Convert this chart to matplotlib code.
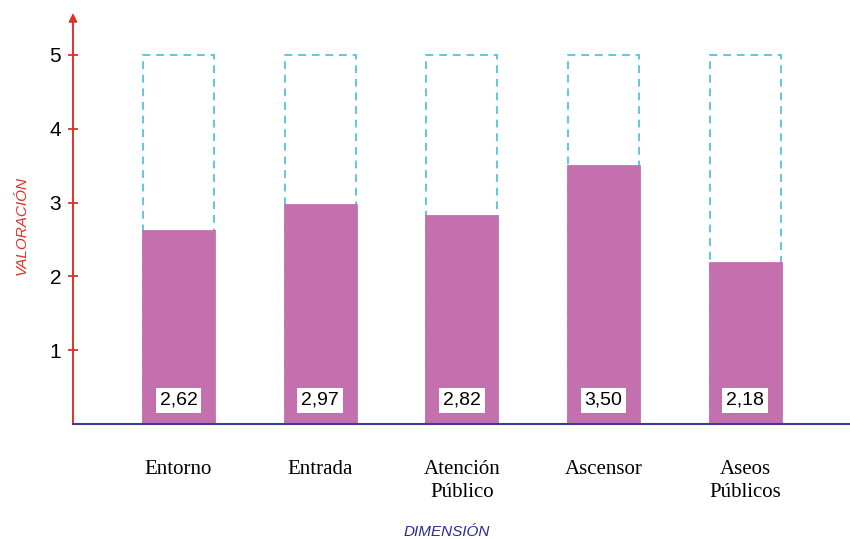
import matplotlib
matplotlib.use("Agg")
import matplotlib.pyplot as plt
import numpy as np

categories = ["Entorno", "Entrada", "Atención\nPúblico", "Ascensor", "Aseos\nPúblicos"]
values = [2.62, 2.97, 2.82, 3.50, 2.18]
value_labels = ["2,62", "2,97", "2,82", "3,50", "2,18"]
max_value = 5
yticks = [1, 2, 3, 4, 5]

W, H = 850, 539
fig = plt.figure(figsize=(W / 100, H / 100), dpi=100)
ax = fig.add_axes([73 / W, (H - 424) / H, (W - 73) / W, (424 - 15) / H])

x = np.arange(len(categories))
ax.bar(x, [max_value] * len(x), width=0.5, fill=False, edgecolor="#62c6e0",
       linestyle=(0, (4, 3)), linewidth=1.4, zorder=2)
ax.bar(x, values, width=0.5, color="#c46fae", edgecolor="#c46fae", linewidth=2, zorder=3)

for xi, lab in zip(x, value_labels):
    ax.text(xi, 0.32, lab, ha="center", va="center", fontsize=14,
            family="Liberation Sans", color="black", zorder=5,
            bbox=dict(boxstyle="square,pad=0.2", fc="white", ec="none"))

ax.set_xlim(-0.745, 4.74)
ax.set_ylim(0, (424 - 15) / 73.8)

for s in ["top", "right"]:
    ax.spines[s].set_visible(False)
ax.spines["left"].set_visible(False)
ax.spines["bottom"].set_color("#3b3b9c")
ax.spines["bottom"].set_linewidth(1.5)
ax.spines["bottom"].set_zorder(4)

# red y axis with arrow
ax.annotate("", xy=(-0.745, (424 - 13) / 73.8), xytext=(-0.745, 0),
            xycoords="data", textcoords="data",
            arrowprops=dict(arrowstyle="-|>", color="#e0302c", lw=1.4,
                            mutation_scale=12, shrinkA=0, shrinkB=0),
            annotation_clip=False)

ax.set_yticks(yticks)
ax.set_yticklabels([str(t) for t in yticks], fontsize=15, family="Liberation Sans")
ax.tick_params(axis="y", direction="inout", length=7, width=1.3, color="#e0302c", pad=5)

ax.set_xticks(x)
ax.set_xticklabels(categories, fontsize=15, family="Liberation Serif", linespacing=1.25)
ax.tick_params(axis="x", length=0, pad=26)
for t in ax.get_xticklabels():
    t.set_verticalalignment("top")

fig.text(22 / W, 1 - 225 / H, "VALORACIÓN", rotation=90, ha="center", va="center",
         color="#e0302c", style="italic", fontsize=11, family="Liberation Sans")
fig.text(447 / W, 1 - 532 / H, "DIMENSIÓN", ha="center", va="center",
         color="#2a2a9a", style="italic", fontsize=11, family="Liberation Sans")

fig.savefig("out.png", dpi=100)
